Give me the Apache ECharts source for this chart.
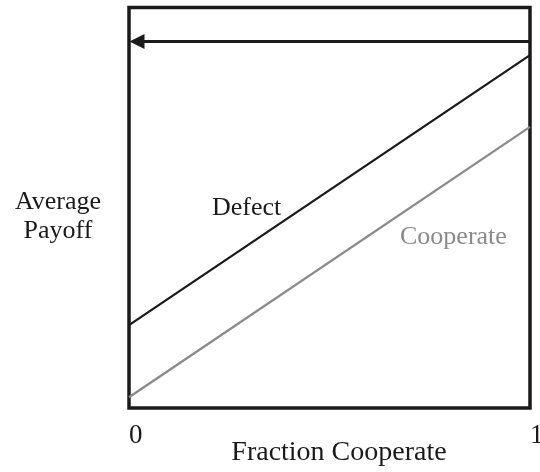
<!DOCTYPE html>
<html>
<head>
<meta charset="utf-8">
<script src="https://cdn.jsdelivr.net/npm/echarts@6/dist/echarts.min.js"></script>
<style>html,body{margin:0;padding:0;background:#fff;overflow:hidden;}#chart{width:540px;height:472px;}</style>
</head>
<body>
<div id="chart"></div>
<script>
// Data
var fractionCooperate = [0, 1];
var defectPayoff = [2.07, 8.81];
var cooperatePayoff = [0.27, 7.02];
var xTickLabels = ['0', '1'];
var arrowLevel = 9.15;
var arrowFrom = 1;
var arrowTo = 0.02;
var yAxisTitle = ['Average', 'Payoff'];
var xAxisTitle = 'Fraction Cooperate';
var seriesNames = ['Defect', 'Cooperate'];

var FONT = 'Liberation Serif';
var chart = echarts.init(document.getElementById('chart'), null, {renderer: 'canvas'});

function pairs(xs, ys) { return xs.map(function (x, i) { return [x, ys[i]]; }); }
function txt(s, x, y, align, color, size) {
  return {type: 'text', x: x, y: y, silent: true,
    style: {text: s, fontFamily: FONT, fontSize: size || 26, fill: color, align: align, verticalAlign: 'middle'}};
}

chart.setOption({
  animation: false,
  backgroundColor: '#ffffff',
  grid: {left: 129, right: 10, top: 7.5, bottom: 64, outerBoundsMode: 'none', containLabel: false,
    show: true, borderColor: '#1a1a1a', borderWidth: 3.5, backgroundColor: 'transparent'},
  xAxis: {
    type: 'value', min: 0, max: 1, interval: 1,
    axisLine: {show: false}, axisTick: {show: false}, splitLine: {show: false},
    axisLabel: {
      show: true, margin: 14, align: 'left', fontFamily: FONT, fontSize: 27, color: '#1a1a1a',
      formatter: function (v) { return xTickLabels[fractionCooperate.indexOf(v)] || ''; }
    }
  },
  yAxis: {
    type: 'value', min: 0, max: 10,
    axisLine: {show: false}, axisTick: {show: false}, splitLine: {show: false}, axisLabel: {show: false}
  },
  series: [
    {
      name: seriesNames[0], type: 'line', data: pairs(fractionCooperate, defectPayoff),
      symbol: 'none', lineStyle: {color: '#1a1a1a', width: 2.3}, silent: true
    },
    {
      name: seriesNames[1], type: 'line', data: pairs(fractionCooperate, cooperatePayoff),
      symbol: 'none', lineStyle: {color: '#8a8a8a', width: 2.3}, silent: true
    },
    {
      type: 'line', data: [], silent: true,
      markLine: {
        silent: true, animation: false,
        symbol: ['none', 'triangle'], symbolSize: [15, 15],
        label: {show: false},
        lineStyle: {color: '#1a1a1a', width: 3, type: 'solid'},
        data: [[{coord: [arrowFrom, arrowLevel]}, {coord: [arrowTo, arrowLevel]}]]
      }
    }
  ],
  graphic: [
    txt(yAxisTitle[0], 58, 202, 'center', '#1a1a1a'),
    txt(yAxisTitle[1], 58, 231, 'center', '#1a1a1a'),
    txt(xAxisTitle, 339, 453, 'center', '#1a1a1a', 28),
    txt(seriesNames[0], 212, 208, 'left', '#1a1a1a'),
    txt(seriesNames[1], 400, 237, 'left', '#8a8a8a')
  ]
});
</script>
</body>
</html>
